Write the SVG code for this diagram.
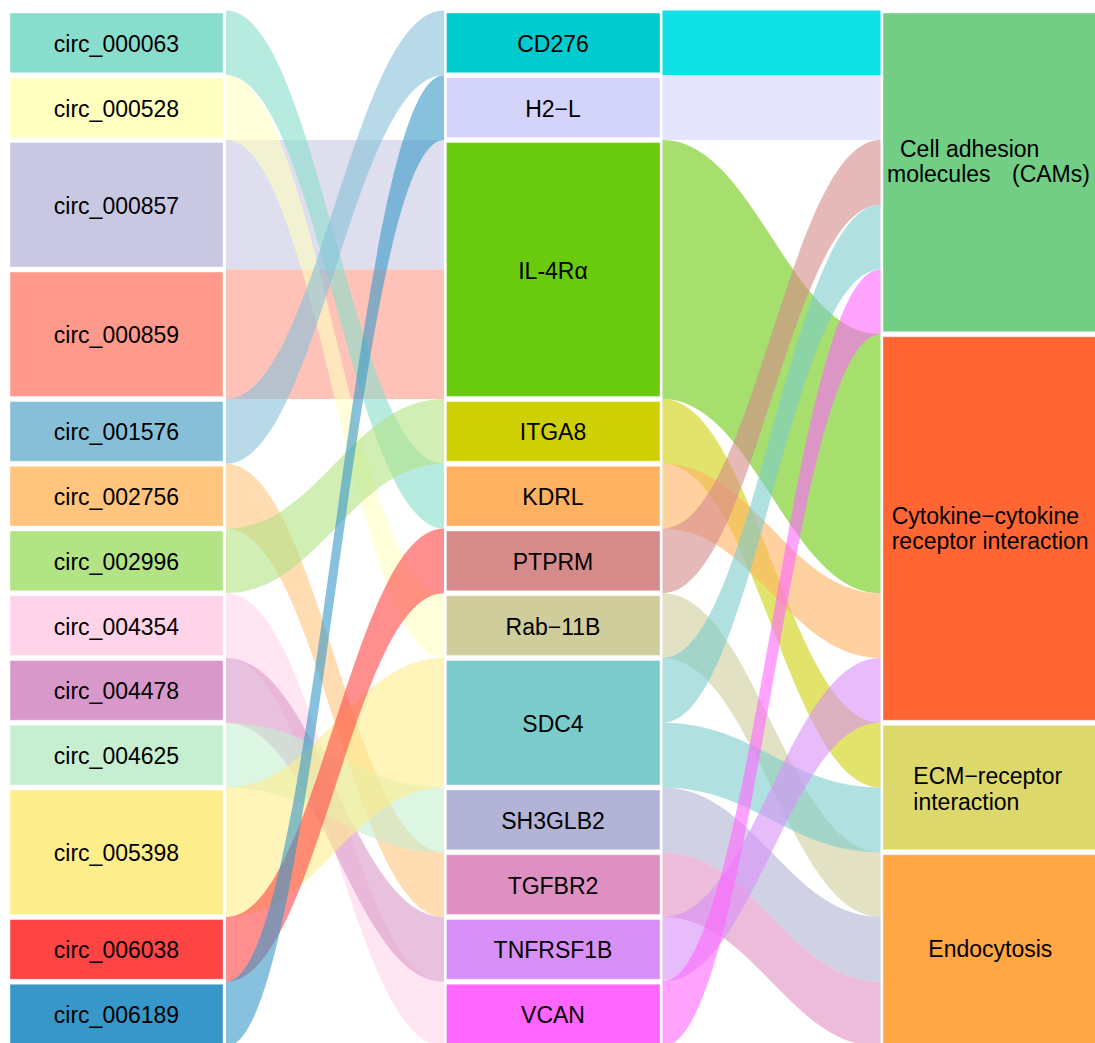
<svg xmlns="http://www.w3.org/2000/svg" width="1095" height="1043" viewBox="0 0 1095 1043">
<style>
.nd{stroke:#ffffff;stroke-opacity:0.4;stroke-width:1}
.fl{fill-opacity:0.6}
text{font-family:"Liberation Sans",Arial,sans-serif;font-size:23px;fill:#000}
.c{text-anchor:middle}
</style>
<rect x="0" y="0" width="1095" height="1043" fill="#ffffff"/>
<g id="connectors">
<g id="flows-left">
<path class="fl" fill="#c8c8e2" d="M226,140 L444,140 L444,269.5 L226,269.5 Z"/>
<path class="fl" fill="#fe9a8b" d="M226,269.5 L444,269.5 L444,399 L226,399 Z"/>
<path class="fl" fill="#88ddcc" d="M226,10.5 C317.5,10.5 352.5,463.75 444,463.75 L444,528.5 C352.5,528.5 317.5,75.25 226,75.25 Z"/>
<path class="fl" fill="#ffffc0" d="M226,75.25 C317.5,75.25 352.5,593.25 444,593.25 L444,658 C352.5,658 317.5,140 226,140 Z"/>
<path class="fl" fill="#87bfd9" d="M226,399 C317.5,399 352.5,10.5 444,10.5 L444,75.25 C352.5,75.25 317.5,463.75 226,463.75 Z"/>
<path class="fl" fill="#ffc47e" d="M226,463.75 C317.5,463.75 352.5,852.25 444,852.25 L444,917 C352.5,917 317.5,528.5 226,528.5 Z"/>
<path class="fl" fill="#b2e384" d="M226,528.5 C317.5,528.5 352.5,399 444,399 L444,463.75 C352.5,463.75 317.5,593.25 226,593.25 Z"/>
<path class="fl" fill="#ffd4e8" d="M226,593.25 C317.5,593.25 352.5,981.75 444,981.75 L444,1046.5 C352.5,1046.5 317.5,658 226,658 Z"/>
<path class="fl" fill="#d898ca" d="M226,658 C317.5,658 352.5,917 444,917 L444,981.75 C352.5,981.75 317.5,722.75 226,722.75 Z"/>
<path class="fl" fill="#c6eed0" d="M226,722.75 C317.5,722.75 352.5,787.5 444,787.5 L444,852.25 C352.5,852.25 317.5,787.5 226,787.5 Z"/>
<path class="fl" fill="#ffee8c" d="M226,787.5 C317.5,787.5 352.5,658 444,658 L444,787.5 C352.5,787.5 317.5,917 226,917 Z"/>
<path class="fl" fill="#ff4444" d="M226,917 C317.5,917 352.5,528.5 444,528.5 L444,593.25 C352.5,593.25 317.5,981.75 226,981.75 Z"/>
<path class="fl" fill="#3797c8" d="M226,981.75 C317.5,981.75 352.5,75.25 444,75.25 L444,140 C352.5,140 317.5,1046.5 226,1046.5 Z"/>
</g>
<g id="flows-right">
<path fill="#0ee0e3" d="M662.5,10.5 L880.5,10.5 L880.5,75.25 L662.5,75.25 Z"/>
<path class="fl" fill="#d4d4fb" d="M662.5,75.25 L880.5,75.25 L880.5,140 L662.5,140 Z"/>
<path class="fl" fill="#6aca0e" d="M662.5,140 C754,140 789,334.25 880.5,334.25 L880.5,593.25 C789,593.25 754,399 662.5,399 Z"/>
<path class="fl" fill="#cfd006" d="M662.5,399 C754,399 789,722.75 880.5,722.75 L880.5,787.5 C789,787.5 754,463.75 662.5,463.75 Z"/>
<path class="fl" fill="#ffb060" d="M662.5,463.75 C754,463.75 789,593.25 880.5,593.25 L880.5,658 C789,658 754,528.5 662.5,528.5 Z"/>
<path class="fl" fill="#d68a8a" d="M662.5,528.5 C754,528.5 789,140 880.5,140 L880.5,204.75 C789,204.75 754,593.25 662.5,593.25 Z"/>
<path class="fl" fill="#cfcd9b" d="M662.5,593.25 C754,593.25 789,852.25 880.5,852.25 L880.5,917 C789,917 754,658 662.5,658 Z"/>
<path class="fl" fill="#7ccbcb" d="M662.5,658 C754,658 789,204.75 880.5,204.75 L880.5,269.5 C789,269.5 754,722.75 662.5,722.75 Z"/>
<path class="fl" fill="#7ccbcb" d="M662.5,722.75 C754,722.75 789,787.5 880.5,787.5 L880.5,852.25 C789,852.25 754,787.5 662.5,787.5 Z"/>
<path class="fl" fill="#b3b3d6" d="M662.5,787.5 C754,787.5 789,917 880.5,917 L880.5,981.75 C789,981.75 754,852.25 662.5,852.25 Z"/>
<path class="fl" fill="#df90c2" d="M662.5,852.25 C754,852.25 789,981.75 880.5,981.75 L880.5,1046.5 C789,1046.5 754,917 662.5,917 Z"/>
<path class="fl" fill="#d890f9" d="M662.5,917 C754,917 789,658 880.5,658 L880.5,722.75 C789,722.75 754,981.75 662.5,981.75 Z"/>
<path class="fl" fill="#ff66ff" d="M662.5,981.75 C754,981.75 789,269.5 880.5,269.5 L880.5,334.25 C789,334.25 754,1046.5 662.5,1046.5 Z"/>
</g>
</g>
<g id="left-nodes">
<g id="n-circ_000063"><rect class="nd" x="10" y="13" width="213" height="59.75" fill="#88ddcc"/><text class="c" x="116.5" y="51.9">circ_000063</text></g>
<g id="n-circ_000528"><rect class="nd" x="10" y="77.75" width="213" height="59.75" fill="#ffffc0"/><text class="c" x="116.5" y="116.6">circ_000528</text></g>
<g id="n-circ_000857"><rect class="nd" x="10" y="142.5" width="213" height="124.5" fill="#c8c8e2"/><text class="c" x="116.5" y="213.8">circ_000857</text></g>
<g id="n-circ_000859"><rect class="nd" x="10" y="272" width="213" height="124.5" fill="#fe9a8b"/><text class="c" x="116.5" y="343.3">circ_000859</text></g>
<g id="n-circ_001576"><rect class="nd" x="10" y="401.5" width="213" height="59.75" fill="#87bfd9"/><text class="c" x="116.5" y="440.4">circ_001576</text></g>
<g id="n-circ_002756"><rect class="nd" x="10" y="466.25" width="213" height="59.75" fill="#ffc47e"/><text class="c" x="116.5" y="505.1">circ_002756</text></g>
<g id="n-circ_002996"><rect class="nd" x="10" y="531" width="213" height="59.75" fill="#b2e384"/><text class="c" x="116.5" y="569.9">circ_002996</text></g>
<g id="n-circ_004354"><rect class="nd" x="10" y="595.75" width="213" height="59.75" fill="#ffd4e8"/><text class="c" x="116.5" y="634.6">circ_004354</text></g>
<g id="n-circ_004478"><rect class="nd" x="10" y="660.5" width="213" height="59.75" fill="#d898ca"/><text class="c" x="116.5" y="699.4">circ_004478</text></g>
<g id="n-circ_004625"><rect class="nd" x="10" y="725.25" width="213" height="59.75" fill="#c6eed0"/><text class="c" x="116.5" y="764.1">circ_004625</text></g>
<g id="n-circ_005398"><rect class="nd" x="10" y="790" width="213" height="124.5" fill="#ffee8c"/><text class="c" x="116.5" y="861.3">circ_005398</text></g>
<g id="n-circ_006038"><rect class="nd" x="10" y="919.5" width="213" height="59.75" fill="#ff4444"/><text class="c" x="116.5" y="958.4">circ_006038</text></g>
<g id="n-circ_006189"><rect class="nd" x="10" y="984.25" width="213" height="59.75" fill="#3797c8"/><text class="c" x="116.5" y="1023.1">circ_006189</text></g>
</g>
<g id="middle-nodes">
<g id="n-CD276"><rect class="nd" x="446.5" y="13" width="213.5" height="59.75" fill="#00cccf"/><text class="c" x="553" y="51.9">CD276</text></g>
<g id="n-H2-L"><rect class="nd" x="446.5" y="77.75" width="213.5" height="59.75" fill="#d4d4fb"/><text class="c" x="553" y="116.6">H2−L</text></g>
<g id="n-IL-4Ra"><rect class="nd" x="446.5" y="142.5" width="213.5" height="254" fill="#6aca0e"/><text class="c" x="553" y="278.5">IL-4Rα</text></g>
<g id="n-ITGA8"><rect class="nd" x="446.5" y="401.5" width="213.5" height="59.75" fill="#cfd006"/><text class="c" x="553" y="440.4">ITGA8</text></g>
<g id="n-KDRL"><rect class="nd" x="446.5" y="466.25" width="213.5" height="59.75" fill="#ffb060"/><text class="c" x="553" y="505.1">KDRL</text></g>
<g id="n-PTPRM"><rect class="nd" x="446.5" y="531" width="213.5" height="59.75" fill="#d68a8a"/><text class="c" x="553" y="569.9">PTPRM</text></g>
<g id="n-Rab-11B"><rect class="nd" x="446.5" y="595.75" width="213.5" height="59.75" fill="#cfcd9b"/><text class="c" x="553" y="634.6">Rab−11B</text></g>
<g id="n-SDC4"><rect class="nd" x="446.5" y="660.5" width="213.5" height="124.5" fill="#7ccbcb"/><text class="c" x="553" y="731.8">SDC4</text></g>
<g id="n-SH3GLB2"><rect class="nd" x="446.5" y="790" width="213.5" height="59.75" fill="#b3b3d6"/><text class="c" x="553" y="828.9">SH3GLB2</text></g>
<g id="n-TGFBR2"><rect class="nd" x="446.5" y="854.75" width="213.5" height="59.75" fill="#df90c2"/><text class="c" x="553" y="893.6">TGFBR2</text></g>
<g id="n-TNFRSF1B"><rect class="nd" x="446.5" y="919.5" width="213.5" height="59.75" fill="#d890f9"/><text class="c" x="553" y="958.4">TNFRSF1B</text></g>
<g id="n-VCAN"><rect class="nd" x="446.5" y="984.25" width="213.5" height="59.75" fill="#ff66ff"/><text class="c" x="553" y="1023.1">VCAN</text></g>
</g>
<g id="right-nodes">
<g id="n-CAMs"><rect class="nd" x="883" y="13" width="213" height="318.75" fill="#72ce84"/><text x="900" y="157">Cell adhesion</text><text y="182"><tspan x="887">molecules</tspan><tspan x="1012">(CAMs)</tspan></text></g>
<g id="n-Cytokine"><rect class="nd" x="883" y="336.75" width="213" height="383.5" fill="#ff6633"/><text x="891.7" y="524">Cytokine−cytokine</text><text x="891.7" y="549">receptor interaction</text></g>
<g id="n-ECM"><rect class="nd" x="883" y="725.25" width="213" height="124.5" fill="#ddd86c"/><text x="913.3" y="784">ECM−receptor</text><text x="913.3" y="810">interaction</text></g>
<g id="n-Endocytosis"><rect class="nd" x="883" y="854.75" width="213" height="189.25" fill="#ffa645"/><text x="928.3" y="957.3">Endocytosis</text></g>
</g>
</svg>
